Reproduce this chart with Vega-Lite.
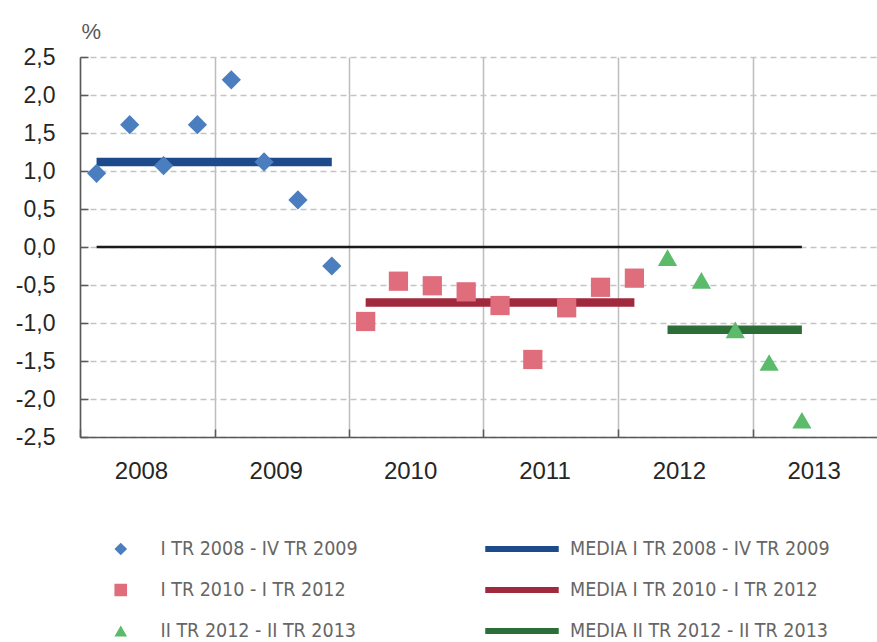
{
  "$schema": "https://vega.github.io/schema/vega-lite/v6.json",
  "width": 797,
  "height": 380,
  "autosize": {"type": "none"},
  "padding": {"left": 80, "top": 57, "right": 0, "bottom": 205},
  "background": "white",
  "config": {"view": {"stroke": null}, "font": "Liberation Sans"},
  "encoding": {
    "x": {
      "field": "fecha",
      "type": "temporal",
      "scale": {
        "domain": [{"year": 2008, "month": 1, "date": 1}, {"year": 2013, "month": 12, "date": 5}],
        "nice": false
      },
      "axis": {
        "title": null,
        "values": [
          {"year": 2008, "month": 1, "date": 1},
          {"year": 2009, "month": 1, "date": 1},
          {"year": 2010, "month": 1, "date": 1},
          {"year": 2011, "month": 1, "date": 1},
          {"year": 2012, "month": 1, "date": 1},
          {"year": 2013, "month": 1, "date": 1}
        ],
        "labelExpr": "timeFormat(datum.value, '%Y')",
        "labelOffset": 61,
        "labelAlign": "center",
        "labelFontSize": 24,
        "labelColor": "#262626",
        "labelPadding": 30,
        "labelFlush": false,
        "labelOverlap": false,
        "grid": true,
        "gridColor": "#bdbdbd",
        "gridWidth": 1.5,
        "domainColor": "#595959",
        "domainWidth": 1.5,
        "tickSize": -8,
        "tickColor": "#595959",
        "tickWidth": 1.5
      }
    },
    "y": {
      "field": "valor",
      "type": "quantitative",
      "scale": {"domain": [-2.5, 2.5], "nice": false, "zero": false},
      "axis": {
        "title": "%",
        "titleAngle": 0,
        "titleX": 1,
        "titleY": -19,
        "titleAlign": "left",
        "titleBaseline": "alphabetic",
        "titleFontSize": 22,
        "titleFontWeight": "normal",
        "titleColor": "#595959",
        "values": [-2.5, -2, -1.5, -1, -0.5, 0, 0.5, 1, 1.5, 2, 2.5],
        "labelExpr": "replace(replace(format(datum.value, '.1f'), '.', ','), '\u2212', '-')",
        "labelFontSize": 23,
        "labelColor": "#262626",
        "labelPadding": 33,
        "labelOverlap": false,
        "grid": true,
        "gridDash": [6, 4],
        "gridColor": "#c4c4c4",
        "gridWidth": 1.3,
        "domainColor": "#595959",
        "domainWidth": 1.5,
        "tickSize": -8,
        "tickColor": "#595959",
        "tickWidth": 1.5
      }
    }
  },
  "layer": [
    {
      "data": {"values": [{"fecha": "2008-02-15", "fecha2": "2013-05-15", "valor": 0}]},
      "mark": {"type": "rule", "color": "#1a1a1a", "strokeWidth": 2.5},
      "encoding": {"x2": {"field": "fecha2"}}
    },
    {
      "data": {
        "values": [
          {"media": "MEDIA I TR 2008 - IV TR 2009", "fecha": "2008-02-15", "fecha2": "2009-11-15", "valor": 1.12},
          {"media": "MEDIA  I TR 2010 - I TR 2012", "fecha": "2010-02-15", "fecha2": "2012-02-15", "valor": -0.73},
          {"media": "MEDIA  II TR 2012 - II TR 2013", "fecha": "2012-05-15", "fecha2": "2013-05-15", "valor": -1.09}
        ]
      },
      "mark": {"type": "rule", "strokeWidth": 8.5},
      "encoding": {
        "x2": {"field": "fecha2"},
        "stroke": {
          "field": "media",
          "type": "nominal",
          "scale": {
            "domain": ["MEDIA I TR 2008 - IV TR 2009", "MEDIA  I TR 2010 - I TR 2012", "MEDIA  II TR 2012 - II TR 2013"],
            "range": ["#1d4a8a", "#a0293d", "#2b6e38"]
          },
          "legend": {
            "title": null,
            "orient": "none",
            "legendX": 402,
            "legendY": 481,
            "direction": "vertical",
            "symbolType": "stroke",
            "symbolSize": 5400,
            "symbolStrokeWidth": 6,
            "clipHeight": 22,
            "rowPadding": 19,
            "labelOffset": 8,
            "labelFont": "DejaVu Sans Condensed, sans-serif",
            "labelFontSize": 19.5,
            "labelColor": "#666666",
            "labelLimit": 400,
            "padding": 0
          }
        }
      }
    },
    {
      "data": {
        "values": [
          {"serie": "I TR 2008 - IV TR 2009", "fecha": "2008-02-15", "valor": 0.97},
          {"serie": "I TR 2008 - IV TR 2009", "fecha": "2008-05-15", "valor": 1.61},
          {"serie": "I TR 2008 - IV TR 2009", "fecha": "2008-08-15", "valor": 1.07},
          {"serie": "I TR 2008 - IV TR 2009", "fecha": "2008-11-15", "valor": 1.61},
          {"serie": "I TR 2008 - IV TR 2009", "fecha": "2009-02-15", "valor": 2.2},
          {"serie": "I TR 2008 - IV TR 2009", "fecha": "2009-05-15", "valor": 1.12},
          {"serie": "I TR 2008 - IV TR 2009", "fecha": "2009-08-15", "valor": 0.62},
          {"serie": "I TR 2008 - IV TR 2009", "fecha": "2009-11-15", "valor": -0.25},
          {"serie": "I TR 2010 - I TR 2012", "fecha": "2010-02-15", "valor": -0.98},
          {"serie": "I TR 2010 - I TR 2012", "fecha": "2010-05-15", "valor": -0.45},
          {"serie": "I TR 2010 - I TR 2012", "fecha": "2010-08-15", "valor": -0.51},
          {"serie": "I TR 2010 - I TR 2012", "fecha": "2010-11-15", "valor": -0.59},
          {"serie": "I TR 2010 - I TR 2012", "fecha": "2011-02-15", "valor": -0.77},
          {"serie": "I TR 2010 - I TR 2012", "fecha": "2011-05-15", "valor": -1.48},
          {"serie": "I TR 2010 - I TR 2012", "fecha": "2011-08-15", "valor": -0.8},
          {"serie": "I TR 2010 - I TR 2012", "fecha": "2011-11-15", "valor": -0.53},
          {"serie": "I TR 2010 - I TR 2012", "fecha": "2012-02-15", "valor": -0.41},
          {"serie": "II TR 2012 - II TR 2013", "fecha": "2012-05-15", "valor": -0.14},
          {"serie": "II TR 2012 - II TR 2013", "fecha": "2012-08-15", "valor": -0.44},
          {"serie": "II TR 2012 - II TR 2013", "fecha": "2012-11-15", "valor": -1.09},
          {"serie": "II TR 2012 - II TR 2013", "fecha": "2013-02-15", "valor": -1.52},
          {"serie": "II TR 2012 - II TR 2013", "fecha": "2013-05-15", "valor": -2.28}
        ]
      },
      "mark": {"type": "point", "filled": true, "opacity": 1, "size": 370, "strokeWidth": 0},
      "encoding": {
        "fill": {
          "field": "serie",
          "type": "nominal",
          "scale": {
            "domain": ["I TR 2008 - IV TR 2009", "I TR 2010 - I TR 2012", "II TR 2012 - II TR 2013"],
            "range": ["#4a7ebf", "#df6d7c", "#5bbb6a"]
          },
          "legend": {
            "title": null,
            "orient": "none",
            "legendX": 31,
            "legendY": 481,
            "direction": "vertical",
            "symbolSize": 160,
            "clipHeight": 22,
            "rowPadding": 19,
            "labelOffset": 30,
            "labelFont": "DejaVu Sans Condensed, sans-serif",
            "labelFontSize": 19.5,
            "labelColor": "#666666",
            "labelLimit": 400,
            "padding": 0
          }
        },
        "shape": {
          "field": "serie",
          "type": "nominal",
          "scale": {
            "domain": ["I TR 2008 - IV TR 2009", "I TR 2010 - I TR 2012", "II TR 2012 - II TR 2013"],
            "range": ["diamond", "square", "triangle-up"]
          },
          "legend": {
            "title": null,
            "orient": "none",
            "legendX": 31,
            "legendY": 481,
            "direction": "vertical",
            "symbolSize": 160,
            "clipHeight": 22,
            "rowPadding": 19,
            "labelOffset": 30,
            "labelFont": "DejaVu Sans Condensed, sans-serif",
            "labelFontSize": 19.5,
            "labelColor": "#666666",
            "labelLimit": 400,
            "padding": 0
          }
        }
      }
    }
  ]
}
